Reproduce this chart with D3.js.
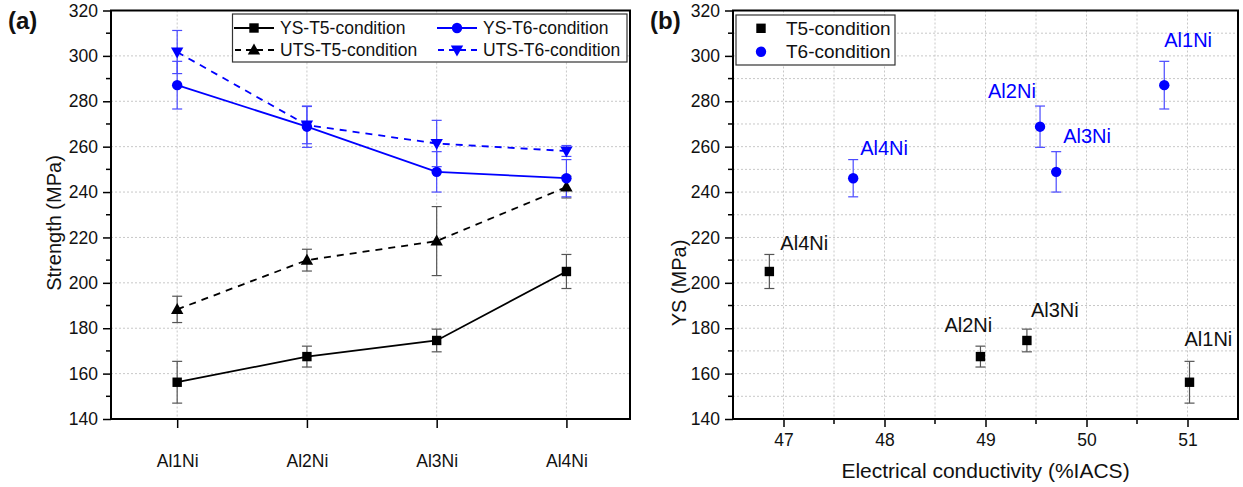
<!DOCTYPE html>
<html><head><meta charset="utf-8">
<script src="https://cdn.jsdelivr.net/npm/d3@7"></script>
<style>
body{margin:0;background:#fff;}
svg text{font-family:Arial,"Liberation Sans",sans-serif;}
</style></head>
<body>
<svg id="c" width="1243" height="487"></svg>
<script>
// ---- data ----
const categories = ["Al1Ni","Al2Ni","Al3Ni","Al4Ni"];
const ysT5     = [156.2, 167.5, 174.6, 205.0];
const ysT5Err  = [9.2, 4.6, 5.0, 7.5];
const utsT5    = [188.3, 210.0, 218.4, 242.2];
const utsT5Err = [5.8, 4.8, 15.2, 4.8];
const ysT6     = [287.1, 268.8, 248.9, 246.1];
const ysT6Err  = [10.5, 9.1, 8.9, 8.2];
const utsT6    = [301.7, 269.5, 261.4, 258.1];
const utsT6Err = [9.5, 8.2, 10.2, 2.4];
const condT5   = [51.02, 48.95, 49.41, 46.86];
const condT6   = [50.77, 49.54, 49.70, 47.69];
const yTicks   = [140,160,180,200,220,240,260,280,300,320];
const xTicksB  = [47,48,49,50,51];
const legendA  = ["YS-T5-condition","UTS-T5-condition","YS-T6-condition","UTS-T6-condition"];
const legendB  = ["T5-condition","T6-condition"];

// label offsets (layout only)
const offT5 = [[-5,-36],[-36,-25],[4,-23],[11,-21]];
const offT6 = [[0,-38],[-52,-29],[7,-29],[7,-23]];

const BLUE = "#0000ff", BLUE_ERR = "#4a4aff", BLACK = "#000", BLACK_ERR = "#555";
const svg = d3.select("#c");
svg.append("rect").attr("width",1243).attr("height",487).attr("fill","#fff");

const yTop = 10.5, yBot = 419;
const TICKF = 17.5;
// ---------- Panel A ----------
const ax0 = 111, ax1 = 630;
const xa = d3.scaleLinear().domain([0.49, 4.49]).range([ax0, ax1]);
const ya = d3.scaleLinear().domain([140, 320]).range([yBot, yTop]);
const gA = svg.append("g");

// grid
gA.selectAll(".gy").data(yTicks.slice(1,-1)).enter().append("line")
  .attr("x1",ax0).attr("x2",ax1).attr("y1",d=>ya(d)).attr("y2",d=>ya(d))
  .attr("stroke","#c8c8c8").attr("stroke-dasharray","2,2");
gA.selectAll(".gx").data(categories).enter().append("line")
  .attr("x1",(d,i)=>xa(i+1)).attr("x2",(d,i)=>xa(i+1)).attr("y1",yTop).attr("y2",yBot)
  .attr("stroke","#c8c8c8").attr("stroke-dasharray","2,2");

// axes
const yAxA = d3.axisLeft(ya).tickValues(yTicks).tickSize(8).tickPadding(5);
const gya = gA.append("g").attr("transform",`translate(${ax0},0)`).call(yAxA);
const yMinorA = d3.range(150, 320, 20);
gA.selectAll(".my").data(yMinorA).enter().append("line")
  .attr("x1",ax0-5).attr("x2",ax0).attr("y1",d=>ya(d)).attr("y2",d=>ya(d)).attr("stroke","#000").attr("stroke-width",1.5);
const xAxA = d3.axisBottom(xa).tickValues([1,2,3,4]).tickFormat(d=>categories[d-1]).tickSize(9).tickPadding(27);
const gxa = gA.append("g").attr("transform",`translate(0,${yBot})`).call(xAxA);
[gya,gxa].forEach(g=>{
  g.select(".domain").remove();
  g.selectAll(".tick line").attr("stroke","#000").attr("stroke-width",1.5);
  g.selectAll(".tick text").attr("font-size",TICKF).attr("fill","#111").attr("font-family","Arial, 'Liberation Sans', sans-serif");
});
gA.append("rect").attr("x",ax0).attr("y",yTop).attr("width",ax1-ax0).attr("height",yBot-yTop)
  .attr("fill","none").attr("stroke","#000").attr("stroke-width",2);

// series
function errBars(g, xs, vals, errs, color, xsc, ysc){
  vals.forEach((v,i)=>{
    const x = xsc(xs[i]), y1 = ysc(v+errs[i]), y2 = ysc(v-errs[i]);
    g.append("line").attr("x1",x).attr("x2",x).attr("y1",y1).attr("y2",y2).attr("stroke",color).attr("stroke-width",1.2);
    [y1,y2].forEach(yy=>g.append("line").attr("x1",x-5).attr("x2",x+5).attr("y1",yy).attr("y2",yy).attr("stroke",color).attr("stroke-width",1.2));
  });
}
function marker(g, type, x, y, color){
  if(type==="square") g.append("rect").attr("x",x-4.7).attr("y",y-4.7).attr("width",9.4).attr("height",9.4).attr("fill",color);
  else if(type==="circle") g.append("circle").attr("cx",x).attr("cy",y).attr("r",5.2).attr("fill",color);
  else if(type==="up") g.append("path").attr("d",`M${x},${y-6.5}L${x+6.2},${y+4.5}L${x-6.2},${y+4.5}Z`).attr("fill",color);
  else if(type==="down") g.append("path").attr("d",`M${x},${y+6.5}L${x+6.2},${y-4.5}L${x-6.2},${y-4.5}Z`).attr("fill",color);
}
const idx = [1,2,3,4];
const seriesA = [
  {vals:ysT5, errs:ysT5Err, color:BLACK, ecol:BLACK_ERR, dash:null, m:"square"},
  {vals:utsT5, errs:utsT5Err, color:BLACK, ecol:BLACK_ERR, dash:"7,6", m:"up"},
  {vals:ysT6, errs:ysT6Err, color:BLUE, ecol:BLUE_ERR, dash:null, m:"circle"},
  {vals:utsT6, errs:utsT6Err, color:BLUE, ecol:BLUE_ERR, dash:"7,6", m:"down"}
];
const lineGen = d3.line().x(d=>xa(d[0])).y(d=>ya(d[1]));
seriesA.forEach(s=>errBars(gA, idx, s.vals, s.errs, s.ecol, xa, ya));
seriesA.forEach(s=>{
  gA.append("path").attr("d",lineGen(s.vals.map((v,i)=>[idx[i],v]))).attr("fill","none")
    .attr("stroke",s.color).attr("stroke-width",1.8).attr("stroke-dasharray",s.dash);
});
seriesA.forEach(s=>s.vals.forEach((v,i)=>marker(gA,s.m,xa(idx[i]),ya(v),s.color)));

// legend A
const lg = gA.append("g");
lg.append("rect").attr("x",232.5).attr("y",14).attr("width",394.5).attr("height",48).attr("fill","#fff").attr("stroke","#333").attr("stroke-width",1.2);
const legPos = [[234,28],[234,50],[437,28],[437,50]];
legendA.forEach((t,i)=>{
  const s = seriesA[i], [lx,ly] = legPos[i];
  lg.append("line").attr("x1",lx).attr("x2",lx+40).attr("y1",ly).attr("y2",ly).attr("stroke",s.color).attr("stroke-width",1.8).attr("stroke-dasharray",s.dash?"6,5":null).attr("stroke-dashoffset",s.dash?-1:0);
  marker(lg,s.m,lx+20,ly,s.color);
  lg.append("text").attr("x",lx+46).attr("y",ly+6).attr("font-size",17.5).attr("fill","#111").text(t);
});

gA.append("text").attr("transform","translate(61,223) rotate(-90)").attr("text-anchor","middle")
  .attr("font-size",20).attr("fill","#111").text("Strength (MPa)");
svg.append("text").attr("x",8).attr("y",29).attr("font-size",24).attr("font-weight","bold").attr("fill","#111").text("(a)");

// ---------- Panel B ----------
const bx0 = 733, bx1 = 1238;
const xb = d3.scaleLinear().domain([46.5, 51.5]).range([bx0, bx1]);
const yb = d3.scaleLinear().domain([140, 320]).range([yBot, yTop]);
const gB = svg.append("g");
gB.selectAll(".gy").data(d3.range(150, 320, 10)).enter().append("line")
  .attr("x1",bx0).attr("x2",bx1).attr("y1",d=>yb(d)).attr("y2",d=>yb(d))
  .attr("stroke","#c8c8c8").attr("stroke-dasharray","2,2");
gB.selectAll(".gx").data(d3.range(47, 51.6, 0.5)).enter().append("line")
  .attr("x1",d=>xb(d)).attr("x2",d=>xb(d)).attr("y1",yTop).attr("y2",yBot)
  .attr("stroke","#c8c8c8").attr("stroke-dasharray","2,2");

const gyb = gB.append("g").attr("transform",`translate(${bx0},0)`).call(d3.axisLeft(yb).tickValues(yTicks).tickSize(8).tickPadding(5));
gB.selectAll(".my").data(yMinorA).enter().append("line")
  .attr("x1",bx0-5).attr("x2",bx0).attr("y1",d=>yb(d)).attr("y2",d=>yb(d)).attr("stroke","#000").attr("stroke-width",1.5);
const gxb = gB.append("g").attr("transform",`translate(0,${yBot})`).call(d3.axisBottom(xb).tickValues(xTicksB).tickFormat(d3.format("d")).tickSize(8).tickPadding(7));
gB.selectAll(".mx").data([47.5,48.5,49.5,50.5]).enter().append("line")
  .attr("x1",d=>xb(d)).attr("x2",d=>xb(d)).attr("y1",yBot).attr("y2",yBot+5).attr("stroke","#000").attr("stroke-width",1.5);
[gyb,gxb].forEach(g=>{
  g.select(".domain").remove();
  g.selectAll(".tick line").attr("stroke","#000").attr("stroke-width",1.5);
  g.selectAll(".tick text").attr("font-size",TICKF).attr("fill","#111").attr("font-family","Arial, 'Liberation Sans', sans-serif");
});
gB.append("rect").attr("x",bx0).attr("y",yTop).attr("width",bx1-bx0).attr("height",yBot-yTop)
  .attr("fill","none").attr("stroke","#000").attr("stroke-width",2);

errBars(gB, condT5, ysT5, ysT5Err, BLACK_ERR, xb, yb);
errBars(gB, condT6, ysT6, ysT6Err, BLUE_ERR, xb, yb);
ysT5.forEach((v,i)=>marker(gB,"square",xb(condT5[i]),yb(v),BLACK));
ysT6.forEach((v,i)=>marker(gB,"circle",xb(condT6[i]),yb(v),BLUE));
const lblFont = "'Open Sans', 'Noto Sans', sans-serif";
categories.forEach((c,i)=>{
  gB.append("text").attr("x",xb(condT5[i])+offT5[i][0]).attr("y",yb(ysT5[i])+offT5[i][1])
    .attr("font-size",20).attr("font-family",lblFont).attr("fill","#111").text(c);
  gB.append("text").attr("x",xb(condT6[i])+offT6[i][0]).attr("y",yb(ysT6[i])+offT6[i][1])
    .attr("font-size",20).attr("font-family",lblFont).attr("fill",BLUE).text(c);
});

// legend B
const lb = gB.append("g");
lb.append("rect").attr("x",736).attr("y",15).attr("width",159).attr("height",50).attr("fill","#fff").attr("stroke","#333").attr("stroke-width",1.2);
marker(lb,"square",761,28.3,BLACK);
marker(lb,"circle",761,51.7,BLUE);
legendB.forEach((t,i)=>lb.append("text").attr("x",786).attr("y",i?58:34.5).attr("font-size",19).attr("fill","#111").text(t));

gB.append("text").attr("x",(bx0+bx1)/2).attr("y",478).attr("text-anchor","middle").attr("font-size",21).attr("fill","#111").text("Electrical conductivity (%IACS)");
gB.append("text").attr("transform","translate(686,283) rotate(-90)").attr("text-anchor","middle").attr("font-size",20).attr("fill","#111").text("YS (MPa)");
svg.append("text").attr("x",650).attr("y",29).attr("font-size",24).attr("font-weight","bold").attr("fill","#111").text("(b)");
</script>
</body></html>
